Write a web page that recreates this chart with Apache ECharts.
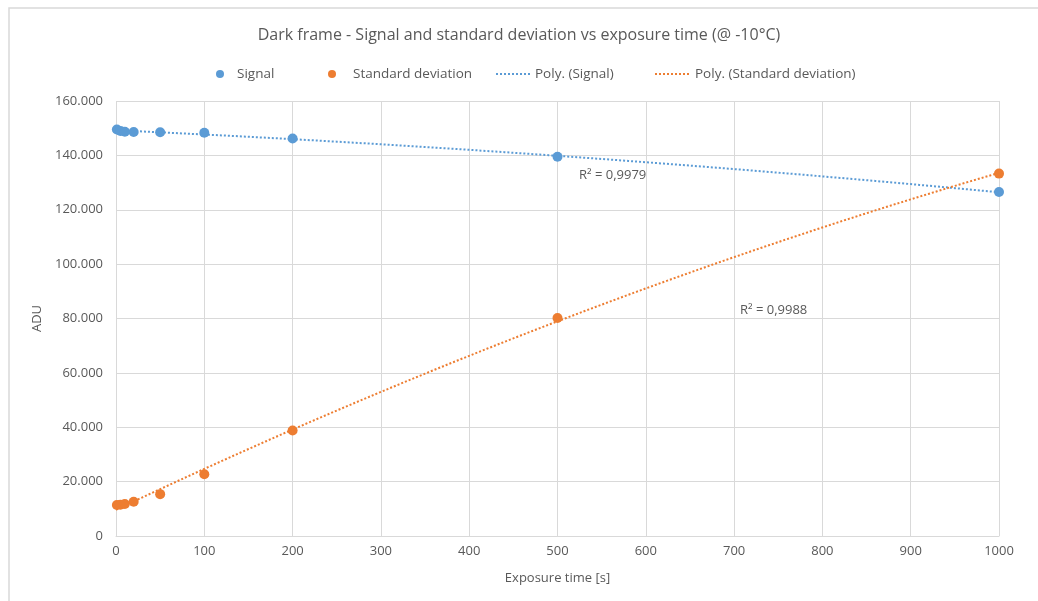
<!DOCTYPE html>
<html>
<head>
<meta charset="utf-8">
<script src="https://cdn.jsdelivr.net/npm/echarts@6/dist/echarts.min.js"></script>
<style>
  html, body { margin: 0; padding: 0; background: #fff; }
  #chart { width: 1038px; height: 601px; }
</style>
</head>
<body>
<div id="chart"></div>
<script>
  // exposure times [s]
  var exposure = [1, 5, 10, 20, 50, 100, 200, 500, 1000];
  // mean dark signal [ADU]
  var signal = [149500, 149000, 148700, 148600, 148500, 148300, 146200, 139500, 126500];
  // standard deviation [ADU]
  var stdDev = [11400, 11500, 11800, 12600, 15400, 22700, 38800, 80200, 133300];
  var xTicks = [0, 100, 200, 300, 400, 500, 600, 700, 800, 900, 1000];
  var yTicks = [0, 20000, 40000, 60000, 80000, 100000, 120000, 140000, 160000];

  var font = '"Open Sans", "Noto Sans", sans-serif';
  var blue = '#5B9BD5';
  var orange = '#ED7D31';
  var grey = '#595959';

  // least squares poly (order 2), like the excel trendline
  function polyFit(xs, ys) {
    var s = [0, 0, 0, 0, 0], t = [0, 0, 0];
    for (var i = 0; i < xs.length; i++) {
      var p = 1;
      for (var k = 0; k < 5; k++) { s[k] += p; if (k < 3) t[k] += p * ys[i]; p *= xs[i]; }
    }
    var m = [[s[0], s[1], s[2], t[0]], [s[1], s[2], s[3], t[1]], [s[2], s[3], s[4], t[2]]];
    for (var c = 0; c < 3; c++) {
      for (var r = c + 1; r < 3; r++) {
        var f = m[r][c] / m[c][c];
        for (var j = c; j < 4; j++) m[r][j] -= f * m[c][j];
      }
    }
    var a = [0, 0, 0];
    for (var r2 = 2; r2 >= 0; r2--) {
      var v = m[r2][3];
      for (var j2 = r2 + 1; j2 < 3; j2++) v -= m[r2][j2] * a[j2];
      a[r2] = v / m[r2][r2];
    }
    return a;
  }
  function trendPoints(coef) {
    var out = [];
    for (var x = 0; x <= 1000; x += 10) out.push([x, coef[0] + coef[1] * x + coef[2] * x * x]);
    return out;
  }

  var sigTrend = trendPoints(polyFit(exposure, signal));
  var stdTrend = trendPoints(polyFit(exposure, stdDev));

  function fmt(v) {
    return String(Math.round(v)).replace(/\B(?=(\d{3})+(?!\d))/g, '.');
  }

  // one legend per entry so each can sit where excel put it
  function legendItem(name, left, opts) {
    var l = {
      data: [name],
      left: left,
      top: 62,
      itemWidth: 8,
      itemHeight: 8,
      textStyle: { fontFamily: font, fontSize: 13.5, color: grey }
    };
    for (var k in opts) l[k] = opts[k];
    return l;
  }

  var chart = echarts.init(document.getElementById('chart'));
  chart.setOption({
    backgroundColor: '#fff',
    animation: false,
    textStyle: { fontFamily: font, color: grey },
    title: {
      text: 'Dark frame - Signal and standard deviation vs exposure time (@ -10°C)',
      left: 'center',
      top: 22,
      textStyle: { fontFamily: font, fontSize: 16, fontWeight: 'normal', color: grey }
    },
    legend: [
      legendItem('Signal', 211, { icon: 'circle', textStyle: { fontFamily: font, fontSize: 13.5, color: grey, padding: [0, 0, 0, 8] } }),
      legendItem('Standard deviation', 323, { icon: 'circle', textStyle: { fontFamily: font, fontSize: 13.5, color: grey, padding: [0, 0, 0, 12] } }),
      legendItem('Poly. (Signal)', 490, { itemWidth: 34, itemStyle: { opacity: 0 } }),
      legendItem('Poly. (Standard deviation)', 649, { itemWidth: 35, itemStyle: { opacity: 0 } })
    ],
    grid: { left: 116, right: 39, top: 101, bottom: 65 },
    xAxis: {
      type: 'value',
      min: 0,
      max: 1000,
      interval: 100,
      name: 'Exposure time [s]',
      nameLocation: 'middle',
      nameGap: 36,
      nameTextStyle: { fontFamily: font, fontSize: 13, color: grey },
      axisLine: { show: true, lineStyle: { color: '#d9d9d9' } },
      axisTick: { show: false },
      axisLabel: {
        fontFamily: font, fontSize: 13, color: grey, margin: 9,
        formatter: function (v) { return xTicks.indexOf(v) >= 0 ? String(v) : ''; }
      },
      splitLine: { show: true, lineStyle: { color: '#d9d9d9' } }
    },
    yAxis: {
      type: 'value',
      min: 0,
      max: 160000,
      interval: 20000,
      name: 'ADU',
      nameLocation: 'middle',
      nameGap: 66,
      nameRotate: 90,
      nameTextStyle: { fontFamily: font, fontSize: 13, color: grey },
      axisLine: { show: false },
      axisTick: { show: false },
      axisLabel: {
        fontFamily: font, fontSize: 13, color: grey, margin: 13,
        formatter: function (v) { return yTicks.indexOf(v) >= 0 ? fmt(v) : ''; }
      },
      splitLine: { show: true, lineStyle: { color: '#d9d9d9' } }
    },
    series: [{
      name: 'Poly. (Signal)',
      type: 'line',
      data: sigTrend,
      symbol: 'none',
      color: blue,
      lineStyle: { color: blue, width: 2, type: [2, 2] },
      z: 2
    }, {
      name: 'Poly. (Standard deviation)',
      type: 'line',
      data: stdTrend,
      symbol: 'none',
      color: orange,
      lineStyle: { color: orange, width: 2, type: [2, 2] },
      z: 2
    }, {
      name: 'Signal',
      type: 'scatter',
      data: exposure.map(function (x, i) { return [x, signal[i]]; }),
      symbolSize: 10,
      itemStyle: { color: blue, opacity: 1 },
      z: 3
    }, {
      name: 'Standard deviation',
      type: 'scatter',
      data: exposure.map(function (x, i) { return [x, stdDev[i]]; }),
      symbolSize: 10,
      itemStyle: { color: orange, opacity: 1 },
      z: 3
    }],
    graphic: [{
      type: 'rect',
      shape: { x: 9, y: 8, width: 1100, height: 700 },
      style: { fill: 'none', stroke: '#d9d9d9', lineWidth: 1.5 },
      silent: true
    }, {
      type: 'text',
      left: 579,
      top: 169,
      style: { text: 'R² = 0,9979', fontFamily: font, fontSize: 13, fill: grey }
    }, {
      type: 'text',
      left: 740,
      top: 304,
      style: { text: 'R² = 0,9988', fontFamily: font, fontSize: 13, fill: grey }
    }]
  });
</script>
</body>
</html>
